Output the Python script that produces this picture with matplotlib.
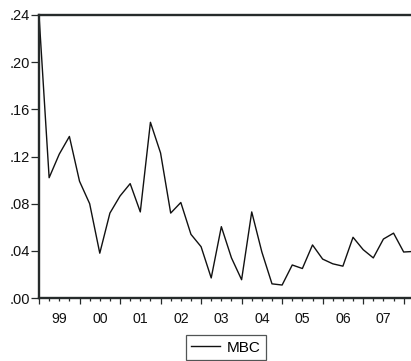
import numpy as np
import matplotlib
matplotlib.use("Agg")
from matplotlib import pyplot as plt
from matplotlib.transforms import blended_transform_factory

plt.rcParams["font.family"] = ["Liberation Sans", "DejaVu Sans"]

# quarterly MBC series, 1999Q1 .. 2008Q2
mbc = [0.240, 0.102, 0.122, 0.137,
       0.099, 0.080, 0.038, 0.072,
       0.0865, 0.097, 0.073, 0.149,
       0.123, 0.072, 0.081, 0.054,
       0.0435, 0.017, 0.0605, 0.034,
       0.0155, 0.073, 0.039, 0.012,
       0.011, 0.028, 0.025, 0.045,
       0.033, 0.029, 0.027, 0.0515,
       0.041, 0.034, 0.050, 0.055,
       0.039, 0.0395]
years = ["99", "00", "01", "02", "03", "04", "05", "06", "07"]
yticks = [0.00, 0.04, 0.08, 0.12, 0.16, 0.20, 0.24]

dark = "#262b2b"
W, H = 411, 361
fig = plt.figure(figsize=(W / 100, H / 100), dpi=100)

# quarter spacing ~10.13 px, first obs sits on the left spine
n = len(mbc)
q = 10.13
x0, y_top, y_bot = 39, 15, 298
ax = fig.add_axes([x0 / W, (H - y_bot) / H, (n - 1) * q / W, (y_bot - y_top) / H])

x = np.arange(n)
ax.plot(x, mbc, color="#111111", lw=1.0)

ax.set_xlim(0, n - 1)
ax.set_ylim(0, 0.24)

for side in ["left", "bottom", "top"]:
    ax.spines[side].set_linewidth(1.7)
    ax.spines[side].set_color(dark)
ax.spines["right"].set_visible(False)

ax.set_yticks(yticks)
ax.set_yticklabels([f"{v:.2f}".lstrip("0") for v in yticks])
ax.tick_params(axis="y", direction="out", length=5.5, width=0.9, color=dark,
               labelsize=10.5, pad=0.8, labelcolor="#111111")

# year ticks long, quarter ticks short
ax.set_xticks(np.arange(0, n, 4))
ax.set_xticks(np.arange(0, n), minor=True)
ax.set_xticklabels([])
ax.tick_params(axis="x", which="major", direction="out", length=4.5, width=0.9, color=dark)
ax.tick_params(axis="x", which="minor", direction="out", length=2.5, width=0.9, color=dark)

# year labels centred on each year's span
trans = blended_transform_factory(ax.transData, ax.transAxes)
for i, lab in enumerate(years):
    ax.text(i * 4 + 2, -0.05, lab, transform=trans, ha="center", va="top",
            fontsize=10.2, color="#111111")

leg = fig.legend(["MBC"], loc="center", bbox_to_anchor=(226.2 / W, 1 - 347.5 / H),
                 fontsize=11, frameon=True, fancybox=False, handlelength=1.9,
                 borderpad=0.35, handletextpad=0.45)
leg.get_frame().set_edgecolor(dark)
leg.get_frame().set_linewidth(0.9)

fig.savefig("out.png", dpi=100)
